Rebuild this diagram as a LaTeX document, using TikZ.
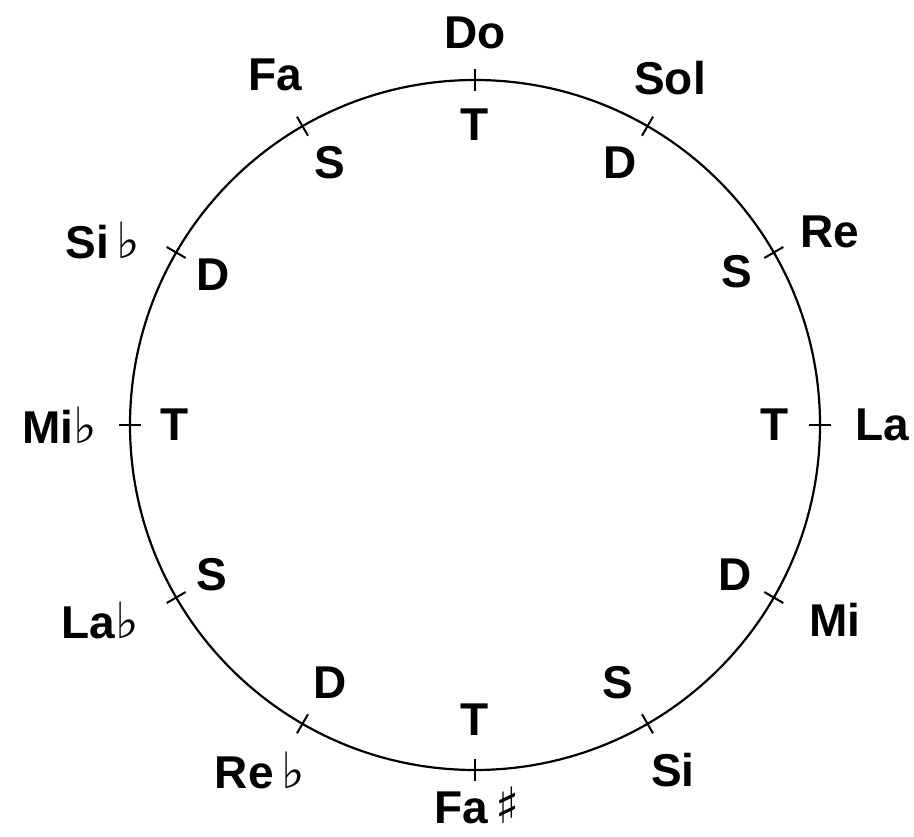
\documentclass[tikz,border=0pt]{standalone}
\usepackage{fontspec}
\setmainfont{Liberation Sans}
\newfontfamily\symfont{DejaVu Sans}
\newcommand{\flt}{{\symfont\bfseries\fontsize{50}{50}\selectfont ♭}}
\newcommand{\shp}{{\symfont\bfseries\fontsize{50}{50}\selectfont ♯}}
\begin{document}
\begin{tikzpicture}[x=1pt,y=-1pt,
  lbl/.style={font=\fontsize{46}{46}\selectfont\bfseries, inner sep=0pt},
  tick/.style={line width=2pt},
  ring/.style={line width=2.2pt}]
\useasboundingbox (0,0) rectangle (914,837);
\coordinate (O) at (475,425);
\draw[ring] (O) circle (345);
\foreach \a in {0,30,...,330}
  \draw[tick] ([shift={(\a:334)}]O) -- ([shift={(\a:356)}]O);
% outer note names
\node[lbl] (do)  at (475,33)  {Do};
\node[lbl] (sol) at (670,78)  {Sol};
\node[lbl] (re)  at (830,232) {Re};
\node[lbl] (la)  at (882,425) {La};
\node[lbl] (mi)  at (835,620) {Mi};
\node[lbl] (si)  at (673,770) {Si};
\node[lbl] (fas) at (477,805) {Fa\,\shp};
\node[lbl] (reb) at (260,770) {Re\,\flt};
\node[lbl] (lab) at (100,620) {La\flt};
\node[lbl] (mib) at (60,425)  {Mi\flt};
\node[lbl] (sib) at (103,240) {Si\,\flt};
\node[lbl] (fa)  at (275,75)  {Fa};
% inner functions
\node[lbl] (t1) at (475,125) {T};
\node[lbl] (d1) at (620,163) {D};
\node[lbl] (s1) at (737,272) {S};
\node[lbl] (t2) at (775,425) {T};
\node[lbl] (d2) at (735,575) {D};
\node[lbl] (s2) at (618,683) {S};
\node[lbl] (t3) at (475,720) {T};
\node[lbl] (d3) at (330,683) {D};
\node[lbl] (s3) at (212,575) {S};
\node[lbl] (t4) at (175,425) {T};
\node[lbl] (d4) at (213,275) {D};
\node[lbl] (s4) at (330,163) {S};
\end{tikzpicture}
\end{document}
